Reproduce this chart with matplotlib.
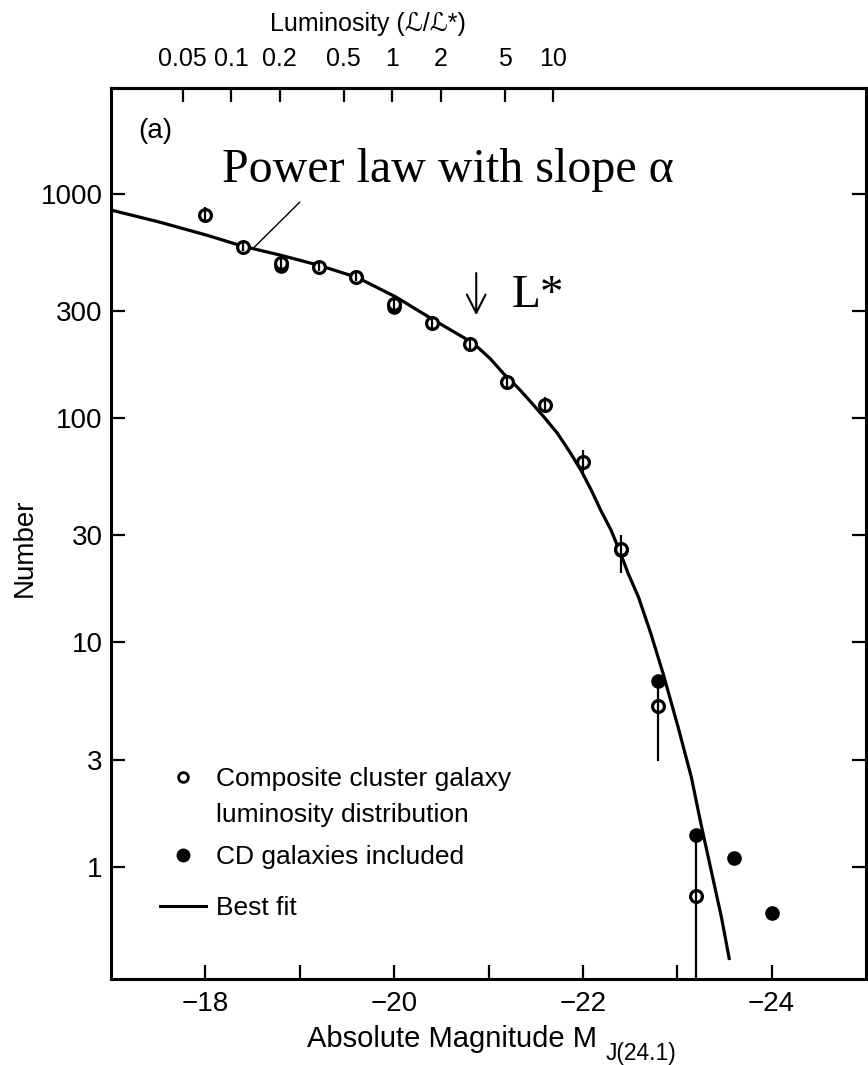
import numpy as np
import matplotlib
matplotlib.use("Agg")
import matplotlib.pyplot as plt
from matplotlib import font_manager
from matplotlib.ticker import FixedLocator, NullLocator
from matplotlib.lines import Line2D
from matplotlib.transforms import IdentityTransform

plt.rcParams['font.family'] = ['Liberation Sans', 'DejaVu Sans']

_names = {f.name for f in font_manager.fontManager.ttflist}
NARROW = 'Liberation Sans Narrow' if 'Liberation Sans Narrow' in _names else 'Liberation Sans'
NARROW_FAM = [NARROW, 'DejaVu Sans']
SERIF_FAM = ['Liberation Serif', 'DejaVu Serif']

# ---- data ----
# composite cluster galaxy luminosity distribution (open circles)
open_mag = [-18.0, -18.4, -18.8, -19.2, -19.6, -20.0, -20.4, -20.8, -21.2, -21.6, -22.0, -22.4, -22.8, -23.2]
open_num = [805, 582, 491, 473, 428, 322, 265, 214, 145, 115, 64, 26, 5.2, 0.74]
open_lo = [740, 556, 469, 452, 409, 308, 253, 204, 138, 106, 57, 20.5, 2.97, 0.2]
open_hi = [875, 609, 514, 495, 448, 337, 277, 224, 152, 125, 72, 30, 6.3, 1.3]

# CD galaxies included (filled circles)
cd_mag = [-18.8, -20.0, -22.4, -22.8, -23.2, -23.6, -24.0]
cd_num = [478, 312, 25.8, 6.7, 1.39, 1.09, 0.62]

# best fit curve
fit_mag = [-17.0, -17.5, -18.01, -18.39, -18.8, -19.21, -19.61, -20.02, -20.42, -20.84, -21.02, -21.16,
           -21.31, -21.45, -21.59, -21.73, -21.87, -21.98, -22.09, -22.19, -22.30, -22.40,
           -22.48, -22.59, -22.72, -22.85, -23.01, -23.15, -23.25, -23.36, -23.47, -23.55]
fit_num = [848, 752, 656, 586, 533, 480, 424, 347, 274, 216, 184, 158,
           137, 118, 101, 85.7, 69.8, 58.6, 47.7, 38.8, 31.6, 24.9,
           20.3, 15.9, 10.96, 7.27, 4.18, 2.50, 1.56, 0.96, 0.59, 0.39]

y_ticks = [1, 3, 10, 30, 100, 300, 1000]
y_labels = ['1', '3', '10', '30', '100', '300', '1000']
x_ticks = [-18, -20, -22, -24]
x_minor = [-19, -21, -23]
x_labels = ['\u221218', '\u221220', '\u221222', '\u221224']
lum_ticks = [0.05, 0.1, 0.2, 0.5, 1, 2, 5, 10]
lum_labels = ['0.05', '0.1', '0.2', '0.5', '1', '2', '5', '10']

# ---- figure ----
fig = plt.figure(figsize=(8.68, 10.65), dpi=100)
ax = fig.add_axes([0.1279, 0.0808, 0.8698, 0.8366])

ax.set_yscale('log')
ax.set_xlim(-17, -25)
ax.set_ylim(0.316, 2970)

# best fit
ax.plot(fit_mag, fit_num, color='black', lw=2.3, solid_joinstyle='round', zorder=2)

# filled points (behind open ones)
ax.plot(cd_mag, cd_num, 'o', ms=9.5, mfc='black', mec='black', zorder=3, linestyle='none')

# open points with error bars
o_num = np.array(open_num)
yerr = [o_num - np.array(open_lo), np.array(open_hi) - o_num]
ax.errorbar(open_mag, open_num, yerr=yerr, fmt='none', ecolor='black', elinewidth=1.6,
            capsize=0, zorder=5)
ax.plot(open_mag, open_num, 'o', ms=8.5, mfc='white', mec='black', mew=2.3, zorder=4,
        linestyle='none')

# axes styling
for sp in ax.spines.values():
    sp.set_linewidth(2.2)
ax.yaxis.set_major_locator(FixedLocator(y_ticks))
ax.set_yticklabels(y_labels)
ax.yaxis.set_minor_locator(NullLocator())
ax.set_xticks(x_ticks)
ax.set_xticklabels(x_labels)
ax.xaxis.set_minor_locator(FixedLocator(x_minor))
ax.tick_params(axis='both', which='both', direction='in', length=10, width=1.6,
               labelsize=20, right=True, top=False)
ax.tick_params(axis='y', pad=6)
ax.tick_params(axis='x', pad=9)

ax.set_ylabel('Number', fontsize=20)
ax.yaxis.set_label_coords(-0.0967, 0.4837)

ax.set_xlabel('Absolute Magnitude M', fontsize=21)
ax.xaxis.label.set_ha('left')
ax.xaxis.label.set_va('baseline')
ax.xaxis.set_label_coords(0.2596, -0.0763)

# top luminosity axis
M_REF, K_MAG = -19.979, 1.706
def m_to_l(m):
    return 10 ** ((M_REF - np.asarray(m, dtype=float)) / K_MAG)
def l_to_m(l):
    l = np.clip(np.asarray(l, dtype=float), 1e-12, None)
    return M_REF - K_MAG * np.log10(l)
sec = ax.secondary_xaxis('top', functions=(m_to_l, l_to_m))
sec.set_xticks(lum_ticks, labels=lum_labels)
sec.xaxis.set_minor_locator(NullLocator())
sec.tick_params(direction='in', length=10, width=1.6, labelsize=18, pad=12)
for lab in sec.get_xticklabels():
    lab.set_family(NARROW_FAM)
sec.spines['top'].set_linewidth(2.2)
sec.set_xlabel('Luminosity (\u2112/\u2112*)', fontsize=18, family=NARROW_FAM)
sec.xaxis.label.set_va('baseline')
sec.xaxis.label.set_ha('center')
sec.xaxis.set_label_coords(0.340, 1.064, transform=ax.transAxes)

# text annotations
ax.text(0.036, 0.952, '(a)', transform=ax.transAxes, fontsize=20, ha='left', va='center')
ax.text(0.147, 0.8945, 'Power law with slope \u03b1', transform=ax.transAxes,
        family=SERIF_FAM, fontsize=34.5, ha='left', va='baseline')
ax.annotate('', xy=(-18.52, 580), xytext=(-19.0, 920),
            arrowprops=dict(arrowstyle='-', lw=1.0, color='black', shrinkA=0, shrinkB=0))
ax.annotate('', xy=(-20.87, 288), xytext=(-20.87, 444),
            arrowprops=dict(arrowstyle='->,head_length=0.55,head_width=0.28', lw=1.5,
                            color='black', shrinkA=0, shrinkB=0, mutation_scale=24))
ax.text(0.531, 0.754, 'L*', transform=ax.transAxes,
        family=SERIF_FAM, fontsize=34, ha='left', va='baseline')

# legend (two blocks to follow the reference spacing)
leg_kw = dict(loc='upper left', frameon=False, handlelength=1.75, handletextpad=0.38,
              borderpad=0, borderaxespad=0, prop={'family': NARROW_FAM, 'size': 19})
h_open = Line2D([], [], marker='o', ls='none', ms=7, mfc='white', mec='black', mew=2.0)
h_blank = Line2D([], [], ls='none')
h_cd = Line2D([], [], marker='o', ls='none', ms=9, mfc='black', mec='black')
h_fit = Line2D([], [], color='black', lw=2.2)
leg1 = ax.legend([h_open, h_blank], ['Composite cluster galaxy', 'luminosity distribution'],
                 bbox_to_anchor=(0.0649, 0.238), labelspacing=0.45, **leg_kw)
ax.add_artist(leg1)
leg2 = ax.legend([h_cd, h_fit], ['CD galaxies included', 'Best fit'],
                 bbox_to_anchor=(0.0649, 0.1504), labelspacing=1.02, **leg_kw)

# subscript of the x label, placed right after the label text
fig.canvas.draw()
renderer = fig.canvas.get_renderer()
bb = ax.xaxis.label.get_window_extent(renderer)
fig.text(bb.x1 + 9, 5, 'J(24.1)', transform=IdentityTransform(), fontsize=16.5,
         ha='left', va='baseline')

fig.savefig('out.png', dpi=100)
